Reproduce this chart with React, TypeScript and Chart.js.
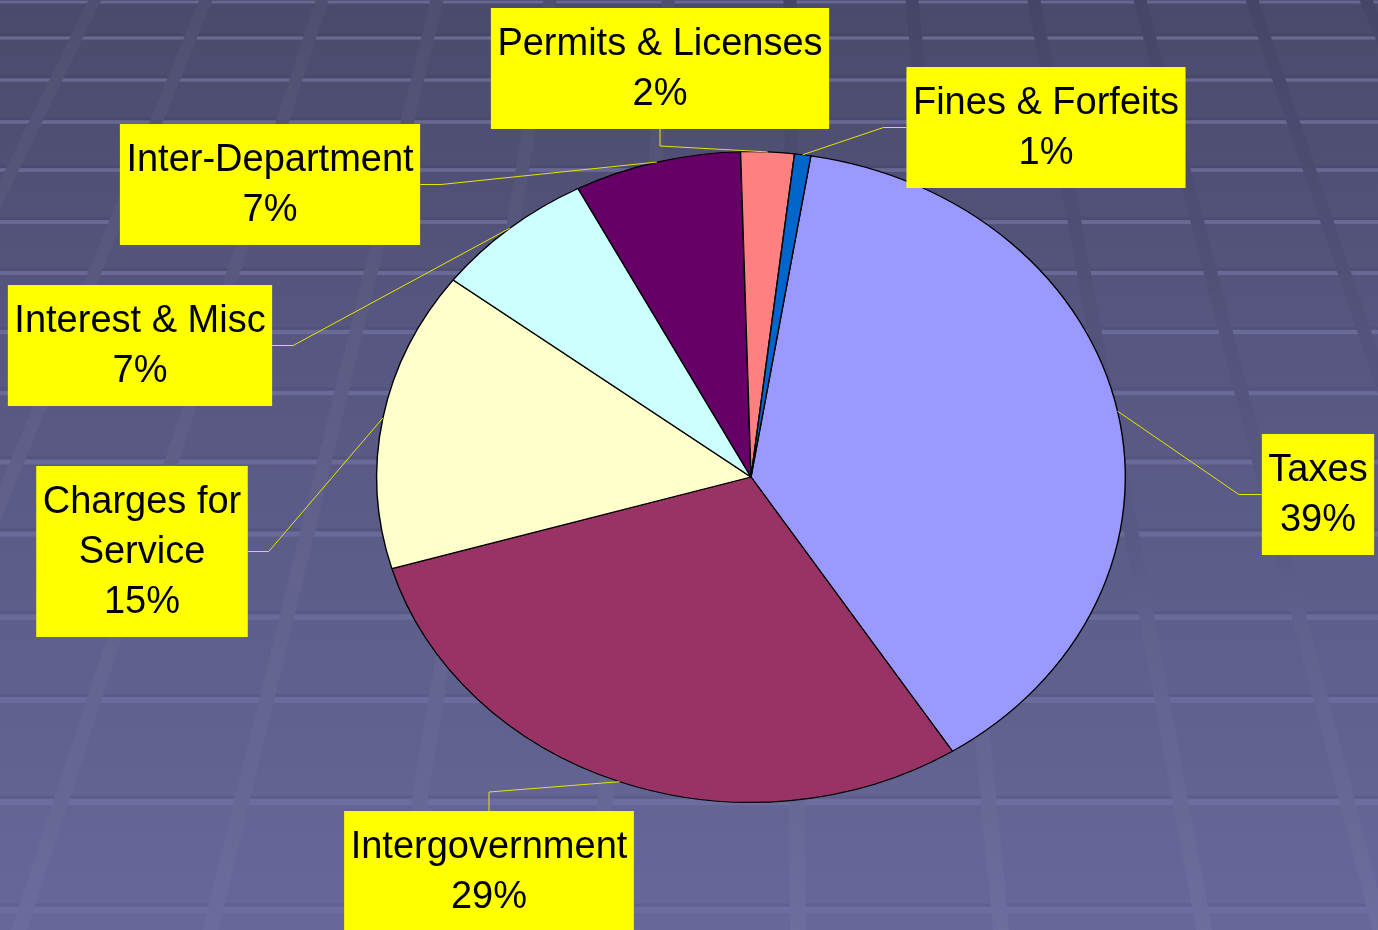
import React, { useEffect, useRef } from "react";
import { Chart, registerables } from "chart.js";

Chart.register(...registerables);

// ---- data ----
const categories = [
  "Taxes",
  "Intergovernment",
  "Charges for Service",
  "Interest & Misc",
  "Inter-Department",
  "Permits & Licenses",
  "Fines & Forfeits",
];
const shares = [38.4, 29.5, 14.9, 7.0, 7.2, 2.3, 0.7];
const percentLabels = ["39%", "29%", "15%", "7%", "7%", "2%", "1%"];
const sliceColors = ["#9999FF", "#993366", "#FFFFCC", "#CCFFFF", "#660066", "#FF8080", "#0066CC"];

// ---- label layout (annotation boxes) ----
const boxCenterX = [1318, 489, 142, 140, 270, 660, 1046];
const boxTop = [434, 811, 466, 285, 124, 8, 67];
const boxSide = ["right", "bottom", "left", "left", "left", "top", "right"];
const wrapWidth = [0, 0, 200, 0, 0, 0, 0];

// ---- background decoration ----
const bandYs = [2, 38, 80, 122, 170, 222, 273, 332, 393, 462, 534, 617, 700, 802, 910];
const stripeX0 = [-20, 95, 206, 322, 437, 550, 668, 790, 912, 1034, 1140, 1252, 1366];
const VX = 778;
const VY = -1400;

const W = 1378;
const H = 930;
const SY = 326 / 375;
const FONT = "38px 'Liberation Sans', Arial, Helvetica, sans-serif";
const LINE_H = 50;

function wrapText(ctx: CanvasRenderingContext2D, text: string, maxW: number): string[] {
  if (!maxW) return [text];
  const words = text.split(" ");
  const out: string[] = [];
  let cur = "";
  for (const w of words) {
    const t = cur ? cur + " " + w : w;
    if (cur && ctx.measureText(t).width > maxW) {
      out.push(cur);
      cur = w;
    } else cur = t;
  }
  if (cur) out.push(cur);
  return out;
}

const bgPlugin = {
  id: "tilesBg",
  beforeDraw(chart: any) {
    const { ctx } = chart;
    const width = chart.width;
    const height = chart.height;
    ctx.save();
    const g = ctx.createLinearGradient(0, 0, 0, height);
    g.addColorStop(0, "#4a4a6c");
    g.addColorStop(0.35, "#56567f");
    g.addColorStop(1, "#67679a");
    ctx.fillStyle = g;
    ctx.fillRect(0, 0, width, height);

    for (const y of bandYs) {
      const t = y / height;
      const h = 3 + 4 * t;
      ctx.fillStyle = "rgba(20,20,50,0.08)";
      ctx.fillRect(0, y - h / 2 - 3, width, 3);
      ctx.fillStyle = `rgba(190,190,255,${0.26 - 0.19 * t})`;
      ctx.fillRect(0, y - h / 2, width, h);
    }

    for (const x0 of stripeX0) {
      const k = (x0 - VX) / -VY;
      const xb = x0 + k * height;
      const hw0 = 6.5;
      const hw1 = 8;
      ctx.beginPath();
      ctx.moveTo(x0 - hw0, 0);
      ctx.lineTo(x0 + hw0, 0);
      ctx.lineTo(xb + hw1, height);
      ctx.lineTo(xb - hw1, height);
      ctx.closePath();
      ctx.fillStyle = g;
      ctx.fill();
      if (x0 < 700) {
        ctx.fillStyle = "rgba(255,255,255,0.03)";
      } else {
        const og = ctx.createLinearGradient(0, 0, 0, height);
        og.addColorStop(0, "rgba(10,10,40,0.07)");
        og.addColorStop(0.6, "rgba(10,10,40,0.03)");
        og.addColorStop(0.7, "rgba(255,255,255,0.02)");
        og.addColorStop(1, "rgba(255,255,255,0.04)");
        ctx.fillStyle = og;
      }
      ctx.fill();
    }
    ctx.restore();
  },
};

const squashPlugin = {
  id: "squash",
  beforeDatasetsDraw(chart: any) {
    const { ctx, chartArea } = chart;
    const cx = (chartArea.left + chartArea.right) / 2;
    const cy = (chartArea.top + chartArea.bottom) / 2;
    ctx.save();
    ctx.translate(cx, cy);
    ctx.scale(1, SY);
    ctx.translate(-cx, -cy);
  },
  afterDatasetsDraw(chart: any) {
    chart.ctx.restore();
  },
};

const labelPlugin = {
  id: "calloutLabels",
  afterDraw(chart: any) {
    const ctx: CanvasRenderingContext2D = chart.ctx;
    const meta = chart.getDatasetMeta(0);
    ctx.save();
    ctx.font = FONT;
    meta.data.forEach((arc: any, i: number) => {
      const p = arc.getProps(["x", "y", "startAngle", "endAngle", "outerRadius"], true);
      const a = (p.startAngle + p.endAngle) / 2;
      const ex = p.x + p.outerRadius * Math.cos(a);
      const ey = p.y + p.outerRadius * SY * Math.sin(a);

      const lines = [...wrapText(ctx, categories[i], wrapWidth[i]), percentLabels[i]];
      const maxW = Math.max(...lines.map((l) => ctx.measureText(l).width));
      const bw = maxW + 13;
      const bh = lines.length * LINE_H + 21;
      const left = boxCenterX[i] - bw / 2;
      const top = boxTop[i];
      const right = left + bw;
      const bottom = top + bh;
      const midY = top + bh / 2;

      let elbow: [number, number];
      let end: [number, number];
      const side = boxSide[i];
      if (side === "right") {
        elbow = [left - 23, midY];
        end = [left, midY];
      } else if (side === "left") {
        elbow = [right + 21, midY];
        end = [right, midY];
      } else if (side === "top") {
        elbow = [boxCenterX[i], bottom + 17];
        end = [boxCenterX[i], bottom];
      } else {
        elbow = [boxCenterX[i], top - 19];
        end = [boxCenterX[i], top];
      }

      ctx.beginPath();
      ctx.moveTo(ex, ey);
      ctx.lineTo(elbow[0], elbow[1]);
      ctx.lineTo(end[0], end[1]);
      ctx.strokeStyle = "#e6e600";
      ctx.lineWidth = 1;
      ctx.stroke();

      ctx.fillStyle = "#FFFF00";
      ctx.fillRect(left, top, bw, bh);

      ctx.fillStyle = "#000000";
      ctx.textAlign = "center";
      ctx.textBaseline = "alphabetic";
      lines.forEach((l, j) => {
        ctx.fillText(l, boxCenterX[i], top + 47 + j * LINE_H);
      });
    });
    ctx.restore();
  },
};

export default function App() {
  const canvasRef = useRef<HTMLCanvasElement | null>(null);

  useEffect(() => {
    document.body.style.margin = "0";
    document.body.style.overflow = "hidden";
    const canvas = canvasRef.current;
    if (!canvas) return;
    const chart = new Chart(canvas, {
      type: "pie",
      data: {
        labels: categories,
        datasets: [
          {
            data: shares,
            backgroundColor: sliceColors,
            borderColor: "#000000",
            borderWidth: 1.4,
          },
        ],
      },
      options: {
        responsive: false,
        animation: false,
        events: [],
        rotation: 9.2,
        layout: { padding: { left: 376, right: 252, top: 102, bottom: 78 } },
        plugins: {
          legend: { display: false },
          tooltip: { enabled: false },
        },
      },
      plugins: [bgPlugin, squashPlugin, labelPlugin],
    } as any);
    return () => chart.destroy();
  }, []);

  return (
    <div style={{ width: W, height: H, overflow: "hidden" }}>
      <canvas ref={canvasRef} width={W} height={H} style={{ display: "block" }} />
    </div>
  );
}
